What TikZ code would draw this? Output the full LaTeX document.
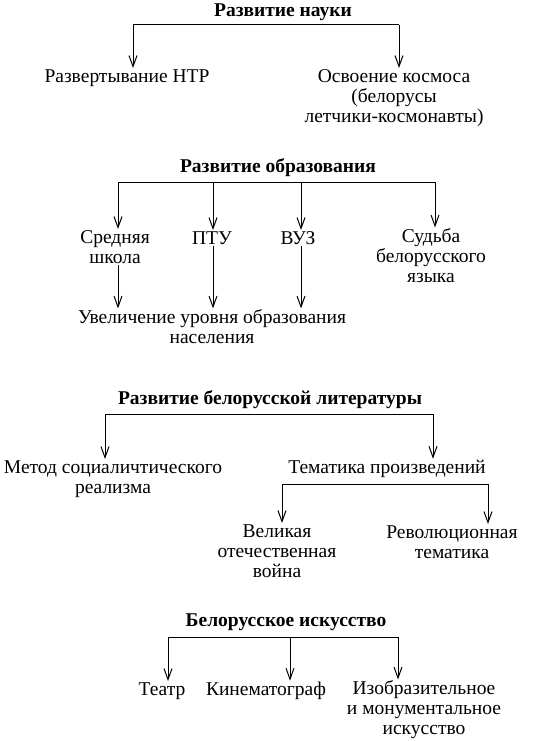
\documentclass[tikz,border=0pt]{standalone}
\usepackage{fontspec}
\setmainfont{Liberation Serif}
\usetikzlibrary{arrows.meta}
\tikzset{
  txt/.style={align=center,inner sep=1pt,font=\fontsize{19.5}{20}\selectfont},
  ttl/.style={txt,font=\fontsize{19.5}{20}\selectfont\bfseries},
  arr/.style={-{Straight Barb[length=11pt,width=8pt]}},
}
\begin{document}
\begin{tikzpicture}[x=1pt,y=-1pt,line width=1pt]
\useasboundingbox (0,0) rectangle (553,741);
\node[ttl] (nauka) at (283,12){Развитие науки};
\node[txt] (ntr) at (127,78){Развертывание НТР};
\node[txt] (kosmos) at (394,98){Освоение космоса\\(белорусы\\летчики-космонавты)};
\coordinate (n1) at (133,25);
\coordinate (n2) at (399,25);
\draw (n1) -- (n2);
\draw[arr] (n1) -- (n1 |- ntr.north);
\draw[arr] (n2) -- (n2 |- kosmos.north);

\node[ttl] (obraz) at (278,168){Развитие образования};
\node[txt] (shkola) at (115,247){Средняя\\школа};
\node[txt] (ptu) at (212,238){ПТУ};
\node[txt] (vuz) at (298,238){ВУЗ};
\node[txt] (yazyk) at (431,256){Судьба\\белорусского\\языка};
\node[txt] (uroven) at (212,327){Увеличение уровня образования\\населения};
\coordinate (o1) at (118,182);
\coordinate (o2) at (213,182);
\coordinate (o3) at (301,182);
\coordinate (o4) at (435,182);
\draw (o1) -- (o4);
\draw[arr] (o1) -- (o1 |- shkola.north);
\draw[arr] (o2) -- (o2 |- ptu.north);
\draw[arr] (o3) -- (o3 |- vuz.north);
\draw[arr] (o4) -- (o4 |- yazyk.north);
\draw[arr] (o1 |- shkola.south) -- (o1 |- uroven.north);
\draw[arr] (o2 |- ptu.south) -- (o2 |- uroven.north);
\draw[arr] (o3 |- vuz.south) -- (o3 |- uroven.north);

\node[ttl] (lit) at (270,400){Развитие белорусской литературы};
\node[txt] (metod) at (113,479){Метод социаличтического\\реализма};
\node[txt] (tema) at (387,469){Тематика произведений};
\node[txt] (voyna) at (277,551){Великая\\отечественная\\война};
\node[txt] (rev) at (452,542){Революционная\\тематика};
\coordinate (l1) at (105,414);
\coordinate (l2) at (433,414);
\coordinate (t1) at (282,484);
\coordinate (t2) at (488,484);
\draw (l1) -- (l2);
\draw[arr] (l1) -- (l1 |- metod.north);
\draw[arr] (l2) -- (l2 |- tema.north);
\draw (t1) -- (t2);
\draw[arr] (t1) -- (t1 |- voyna.north);
\draw[arr] (t2) -- (t2 |- rev.north);

\node[ttl] (isk) at (286,622){Белорусское искусство};
\node[txt] (teatr) at (162,691){Театр};
\node[txt] (kino) at (266,691){Кинематограф};
\node[txt] (izo) at (424,710){Изобразительное\\и монументальное\\искусство};
\coordinate (i1) at (168,637);
\coordinate (i2) at (290,637);
\coordinate (i3) at (398,637);
\draw (i1) -- (i3);
\draw[arr] (i1) -- (i1 |- teatr.north);
\draw[arr] (i2) -- (i2 |- kino.north);
\draw[arr] (i3) -- (i3 |- izo.north);
\end{tikzpicture}
\end{document}
